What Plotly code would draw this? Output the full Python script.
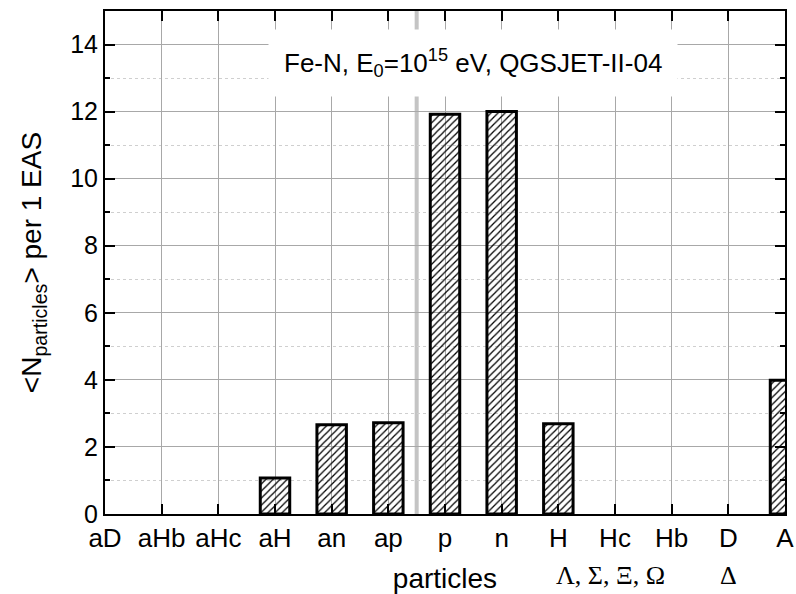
import plotly.graph_objects as go

categories = ["aD", "aHb", "aHc", "aH", "an", "ap", "p", "n", "H", "Hc", "Hb", "D", "A"]
counts = [0, 0, 0, 1.07, 2.66, 2.72, 11.92, 12.0, 2.69, 0, 0, 0, 3.99]
y_ticks = [0, 2, 4, 6, 8, 10, 12, 14]

xs = list(range(len(categories)))
outline_widths = [3 if v > 0 else 0 for v in counts]

fig = go.Figure()
fig.add_trace(go.Bar(
    x=xs, y=counts, width=0.52,
    marker=dict(
        color="black",
        line=dict(color="black", width=outline_widths),
        pattern=dict(shape="/", fgcolor="black", bgcolor="rgba(255,255,255,0)",
                     size=5, solidity=0.25, fillmode="replace"),
    ),
    showlegend=False,
))

base = "Liberation Sans, Arial"
tick_font = dict(family=base, size=25, color="black")
xtick_font = dict(family=base, size=26, color="black")
title_font = dict(family=base, size=28, color="black")
ann_font = dict(family=base, size=26, color="black")
greek_font = dict(family="Liberation Serif, Times New Roman", size=26, color="black")

fig.update_layout(
    width=796, height=594,
    margin=dict(l=105, r=11, t=11, b=80),
    plot_bgcolor="white", paper_bgcolor="white",
    font=tick_font,
    xaxis=dict(
        range=[0, 12], tickmode="array", tickvals=xs, ticktext=categories,
        ticks="inside", ticklen=10, tickwidth=1.5, tickcolor="black",
        showline=True, linecolor="black", linewidth=2, mirror="allticks",
        showgrid=True, gridcolor="#a8a8a8", gridwidth=1,
        zeroline=False, automargin=False,
        title=dict(text="particles", font=title_font, standoff=16),
        tickfont=xtick_font,
    ),
    yaxis=dict(
        range=[0, 15], tickmode="array", tickvals=y_ticks,
        ticks="inside", ticklen=10, tickwidth=1.5, tickcolor="black",
        showline=True, linecolor="black", linewidth=2, mirror="allticks",
        showgrid=True, gridcolor="#a8a8a8", gridwidth=1,
        zeroline=False, automargin=False,
        minor=dict(dtick=1, tick0=1, ticks="inside", ticklen=5, tickcolor="black",
                   showgrid=True, gridcolor="#cfcfcf", griddash="dot", gridwidth=1),
        title=dict(text="&lt;N<sub>particles</sub>&gt; per 1 EAS", font=title_font, standoff=20),
        tickfont=tick_font,
    ),
)

fig.add_shape(type="line", x0=5.5, x1=5.5, y0=0, y1=1, xref="x", yref="paper",
              line=dict(color="#c4c4c4", width=4), layer="between")

fig.add_annotation(
    x=6.5, y=13.46, xref="x", yref="y",
    text="Fe-N, E<sub>0</sub>=10<sup>15</sup> eV, QGSJET-II-04",
    showarrow=False, bgcolor="white", borderpad=15, font=ann_font,
)

fig.add_annotation(x=7.93, y=0, xref="x", yref="paper", yshift=-61, yanchor="middle",
                   text="Λ, Σ, Ξ, Ω", showarrow=False, xanchor="left",
                   font=greek_font)
fig.add_annotation(x=11, y=0, xref="x", yref="paper", yshift=-61, yanchor="middle",
                   text="Δ", showarrow=False, font=greek_font)

fig.write_html("out.html")
